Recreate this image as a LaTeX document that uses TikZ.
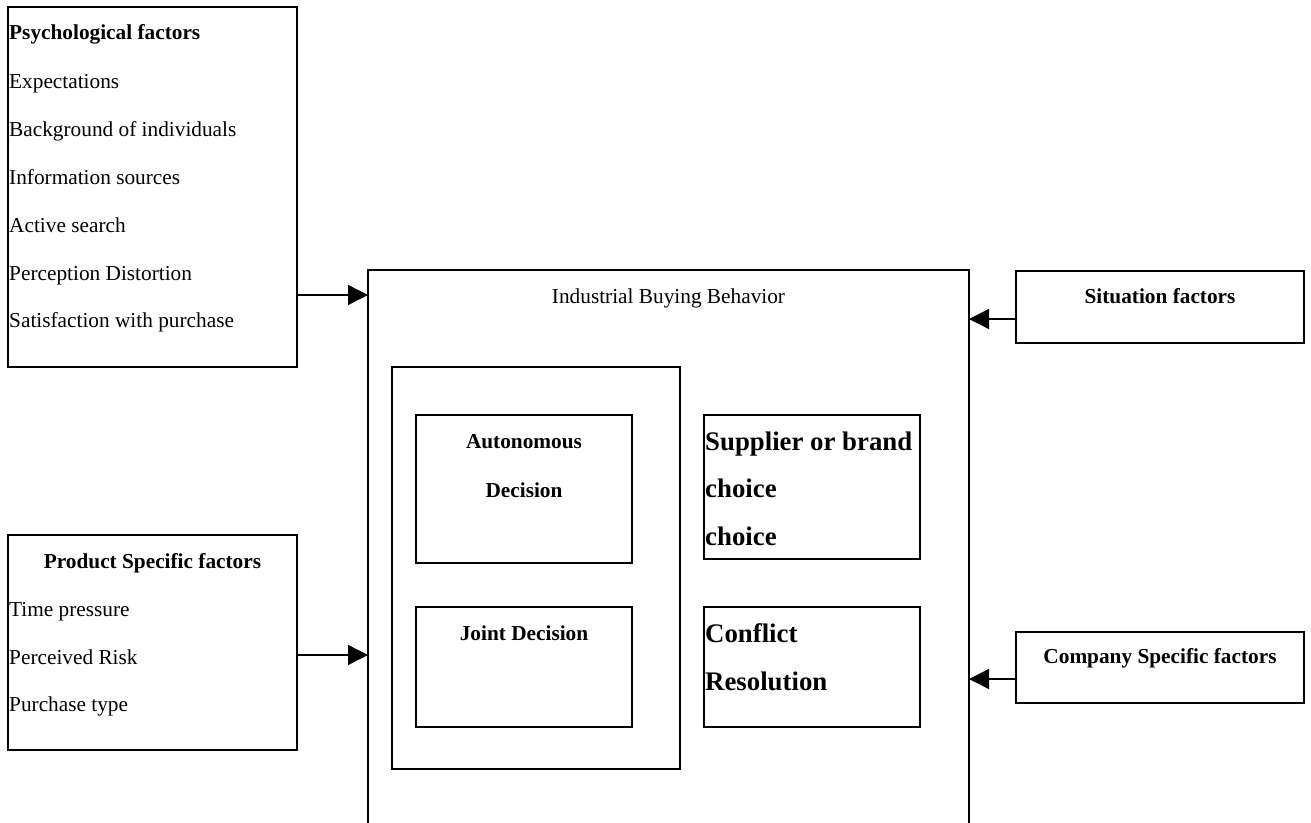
\documentclass[tikz,border=0pt]{standalone}
\usepackage{fontspec}
\setmainfont{Liberation Serif}
\usetikzlibrary{arrows.meta}
\begin{document}
\begin{tikzpicture}[x=1pt,y=-1pt,
  box/.style={draw,line width=1.4pt,rectangle,inner sep=0pt,outer sep=0pt,anchor=north west},
  txt/.style={inner sep=0pt,font=\fontsize{21.3}{25}\selectfont},
  btxt/.style={inner sep=0pt,font=\fontsize{21.3}{25}\selectfont\bfseries},
  bigtxt/.style={inner sep=0pt,font=\fontsize{26.8}{30}\selectfont\bfseries},
  arr/.style={line width=1.4pt,-{Triangle[length=20pt,width=20pt]}}]
\useasboundingbox (0,0) rectangle (1311,822);
% boxes
\node[box,minimum width=289pt,minimum height=360pt] (psych) at (8,7) {};
\node[box,minimum width=601pt,minimum height=575pt] (main) at (368,270) {};
\node[box,minimum width=288pt,minimum height=402pt] (inner) at (392,367) {};
\node[box,minimum width=216pt,minimum height=148pt] (auto) at (416,415) {};
\node[box,minimum width=216pt,minimum height=144pt] (supp) at (704,415) {};
\node[box,minimum width=216pt,minimum height=120pt] (joint) at (416,607) {};
\node[box,minimum width=216pt,minimum height=120pt] (confl) at (704,607) {};
\node[box,minimum width=288pt,minimum height=72pt] (situ) at (1016,271) {};
\node[box,minimum width=289pt,minimum height=215pt] (prod) at (8,535) {};
\node[box,minimum width=288pt,minimum height=71pt] (comp) at (1016,632) {};
% psychological texts
\node[btxt,anchor=base west] (p0) at (9,39) {Psychological factors};
\node[txt,anchor=base west] (p1) at (9,88) {Expectations};
\node[txt,anchor=base west] (p2) at (9,136) {Background of individuals};
\node[txt,anchor=base west] (p3) at (9,184) {Information sources};
\node[txt,anchor=base west] (p4) at (9,232) {Active search};
\node[txt,anchor=base west] (p5) at (9,280) {Perception Distortion};
\node[txt,anchor=base west] (p6) at (9,327) {Satisfaction with purchase};
% product texts
\node[btxt,anchor=base] (q0) at (152.5,568) {Product Specific factors};
\node[txt,anchor=base west] (q1) at (9,616) {Time pressure};
\node[txt,anchor=base west] (q2) at (9,664) {Perceived Risk};
\node[txt,anchor=base west] (q3) at (9,711) {Purchase type};
% main texts
\node[txt,anchor=base] (mt) at (668.5,303) {Industrial Buying Behavior};
\node[btxt,anchor=base] (a0) at (524,448) {Autonomous};
\node[btxt,anchor=base] (a1) at (524,497) {Decision};
\node[btxt,anchor=base] (j0) at (524,640) {Joint Decision};
\node[bigtxt,anchor=base west] (s0) at (705,450) {Supplier or brand};
\node[bigtxt,anchor=base west] (s1) at (705,497) {choice};
\node[bigtxt,anchor=base west] (s2) at (705,545) {choice};
\node[bigtxt,anchor=base west] (c0) at (705,642) {Conflict};
\node[bigtxt,anchor=base west] (c1) at (705,690) {Resolution};
% right texts
\node[btxt,anchor=base] (st) at (1160,303) {Situation factors};
\node[btxt,anchor=base] (ct) at (1160,663) {Company Specific factors};
% arrows
\coordinate (y1) at (0,295);
\coordinate (y2) at (0,319);
\coordinate (y3) at (0,655);
\coordinate (y4) at (0,679);
\draw[arr] (y1 -| psych.east) -- (y1 -| main.west);
\draw[arr] (y2 -| situ.west) -- (y2 -| main.east);
\draw[arr] (y3 -| prod.east) -- (y3 -| main.west);
\draw[arr] (y4 -| comp.west) -- (y4 -| main.east);
\end{tikzpicture}
\end{document}
